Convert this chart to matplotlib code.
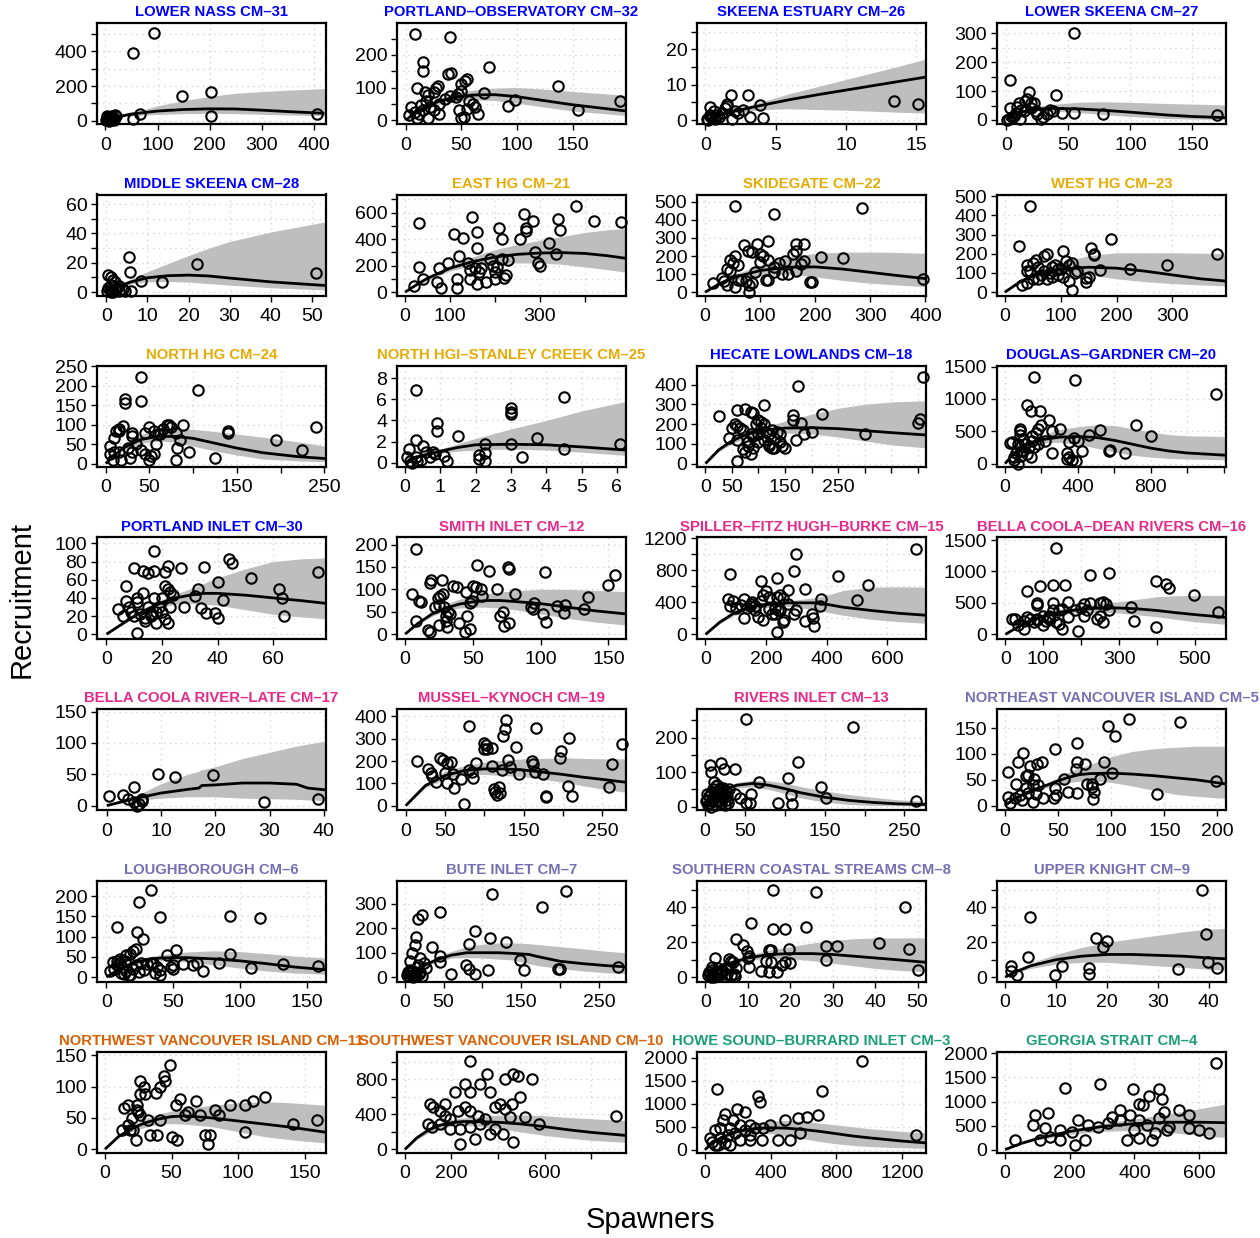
import matplotlib
matplotlib.use("Agg")
import matplotlib.pyplot as plt

plt.rcParams["font.family"] = ["Liberation Sans", "DejaVu Sans"]

# title colours by region group
BLUE, GOLD, PINK = "#0000FF", "#E6AB02", "#E7298A"
PURPLE, ORANGE, GREEN = "#7570B3", "#D95F02", "#1B9E77"

titles = [
    "LOWER NASS CM–31", "PORTLAND–OBSERVATORY CM–32", "SKEENA ESTUARY CM–26", "LOWER SKEENA CM–27",
    "MIDDLE SKEENA CM–28", "EAST HG CM–21", "SKIDEGATE CM–22", "WEST HG CM–23",
    "NORTH HG CM–24", "NORTH HGI–STANLEY CREEK CM–25", "HECATE LOWLANDS CM–18", "DOUGLAS–GARDNER CM–20",
    "PORTLAND INLET CM–30", "SMITH INLET CM–12", "SPILLER–FITZ HUGH–BURKE CM–15", "BELLA COOLA–DEAN RIVERS CM–16",
    "BELLA COOLA RIVER–LATE CM–17", "MUSSEL–KYNOCH CM–19", "RIVERS INLET CM–13", "NORTHEAST VANCOUVER ISLAND CM–5",
    "LOUGHBOROUGH CM–6", "BUTE INLET CM–7", "SOUTHERN COASTAL STREAMS CM–8", "UPPER KNIGHT CM–9",
    "NORTHWEST VANCOUVER ISLAND CM–11", "SOUTHWEST VANCOUVER ISLAND CM–10", "HOWE SOUND–BURRARD INLET CM–3", "GEORGIA STRAIT CM–4",
]
title_colors = [BLUE] * 5 + [GOLD] * 5 + [BLUE] * 3 + [PINK] * 6 + [PURPLE] * 5 + [ORANGE] * 2 + [GREEN] * 2

# observed (spawners, recruits) and fitted table (spawners, fit, lower, upper)
nass_obs = [(94, 505), (53, 390), (146, 143), (202, 163), (202, 28), (406, 37), (66, 38), (53, 8),
            (2, 2), (4, 12), (6, 18), (8, 5), (10, 22), (12, 28), (15, 14), (18, 30), (20, 25),
            (3, 25), (7, 0), (11, 8), (14, 20), (16, 3), (9, 15), (5, 6)]
nass_fit = [(0, 0, 0, 0), (25, 22, 18, 27), (50, 38, 28, 45), (100, 55, 35, 85), (150, 64, 40, 115),
            (200, 68, 42, 140), (250, 67, 40, 158), (300, 60, 36, 168), (350, 52, 32, 176), (420, 42, 28, 185)]

portobs_obs = [(8, 265), (40, 255), (15, 178), (15, 150), (75, 162), (38, 140), (41, 145), (137, 105),
               (55, 125), (53, 120), (50, 110), (10, 97), (20, 78), (25, 85), (27, 97), (29, 105), (50, 90),
               (47, 80), (70, 82), (98, 62), (92, 42), (155, 30), (193, 58), (40, 75), (35, 65), (30, 50),
               (22, 40), (18, 60), (15, 30), (12, 20), (5, 40), (3, 15), (10, 5), (20, 5), (30, 20), (50, 5),
               (52, 10), (55, 35), (60, 50), (62, 40), (65, 20), (57, 60), (45, 70), (25, 30), (8, 25),
               (14, 45), (17, 85), (48, 30)]
portobs_fit = [(0, 0, 0, 0), (10, 28, 24, 32), (20, 45, 38, 52), (30, 58, 49, 67), (40, 67, 56, 78),
               (50, 73, 60, 86), (60, 77, 62, 92), (80, 78, 60, 98), (100, 72, 52, 100), (120, 62, 42, 96),
               (150, 47, 28, 88), (198, 28, 14, 76)]

skest_obs = [(0.1, 0.2), (0.3, 3.8), (0.3, 1.5), (0.5, 0.5), (0.7, 0.3), (1.0, 1.0), (1.2, 2.0), (1.5, 4.0),
             (1.5, 4.5), (1.8, 7.0), (1.9, 0.2), (2.1, 2.5), (2.3, 2.0), (2.7, 2.8), (3.0, 7.2), (3.2, 0.9),
             (3.9, 4.2), (4.1, 0.5), (13.4, 5.3), (15.1, 4.6), (0.2, 0.0), (0.4, 0.8), (0.8, 1.5),
             (1.4, 3.5), (0.6, 2.5)]
skest_fit = [(0, 0, 0, 0), (1, 1.4, 1.2, 1.6), (2, 2.5, 2.0, 3.0), (4, 4.2, 3.0, 5.2), (6, 5.8, 3.2, 7.5),
             (8, 7.2, 3.0, 9.5), (10, 8.5, 2.8, 11.5), (12, 9.8, 2.5, 13.5), (14, 11.1, 2.2, 15.5),
             (15.7, 12.2, 2.0, 17.3)]

lskeena_obs = [(55, 300), (3, 140), (40, 88), (18, 98), (3, 40), (10, 60), (15, 65), (17, 72), (20, 60),
               (22, 58), (12, 35), (8, 25), (5, 10), (2, 5), (1, 0), (25, 20), (30, 10), (35, 35), (38, 30),
               (33, 20), (45, 25), (55, 25), (78, 20), (170, 18), (6, 15), (9, 45), (14, 30), (20, 40),
               (11, 5), (28, 5), (24, 30)]
lskeena_fit = [(0, 0, 0, 0), (5, 15, 13, 17), (10, 25, 21, 29), (20, 35, 29, 42), (30, 39, 31, 50),
               (40, 40, 30, 55), (60, 38, 25, 62), (80, 33, 18, 63), (100, 27, 12, 61), (130, 17, 5, 57),
               (150, 12, 3, 55), (177, 8, 2, 52)]

mskeena_obs = [(0.5, 12), (1, 10), (1.5, 8), (2, 7), (1, 5), (0.5, 3), (2, 2), (3, 1), (0.2, 0.5), (1.2, 0),
               (5.5, 24), (5.8, 14), (8.3, 7.5), (13.5, 7), (22, 19), (51, 13), (6, 1), (4, 2), (3, 4),
               (2.5, 3), (0.8, 1.5), (1.5, 0.3), (4.5, 0.5)]
mskeena_fit = [(0, 0, 0, 0), (1, 1.6, 1.4, 1.8), (3, 4, 3.3, 4.8), (6, 7, 5.5, 9), (10, 9.8, 7, 14),
               (15, 11.2, 7.3, 19.5), (20, 11.6, 6.8, 25), (25, 11, 5.8, 30), (30, 9.6, 4.8, 34.5),
               (40, 7, 3, 41), (53.5, 4.5, 1.5, 48)]

easthg_obs = [(20, 50), (30, 190), (30, 520), (40, 100), (70, 80), (75, 180), (80, 30), (95, 220), (110, 440),
              (115, 30), (115, 100), (120, 270), (130, 410), (140, 220), (145, 170), (150, 570), (155, 180),
              (160, 450), (160, 330), (160, 60), (165, 150), (170, 180), (180, 80), (190, 250), (195, 200),
              (200, 150), (210, 480), (215, 250), (215, 400), (225, 130), (220, 110), (230, 240), (255, 400),
              (265, 590), (270, 460), (270, 480), (285, 540), (290, 300), (295, 220), (300, 200), (320, 370),
              (335, 290), (340, 550), (345, 470), (380, 650), (420, 540), (480, 530), (145, 100), (200, 100),
              (205, 190)]
easthg_fit = [(0, 0, 0, 0), (25, 55, 48, 62), (50, 105, 92, 120), (100, 180, 160, 200), (150, 230, 200, 265),
              (200, 265, 215, 320), (250, 285, 220, 360), (300, 295, 220, 390), (350, 298, 210, 420),
              (400, 292, 190, 450), (450, 275, 170, 470), (492, 255, 150, 480)]

skide_obs = [(55, 475), (125, 435), (285, 465), (70, 260), (95, 265), (115, 285), (165, 265), (180, 265),
             (78, 230), (100, 210), (55, 200), (45, 180), (50, 160), (60, 150), (40, 130), (45, 120), (30, 80),
             (15, 50), (35, 60), (40, 40), (55, 30), (60, 70), (75, 60), (80, 40), (80, 0), (85, 50), (90, 110),
             (100, 165), (105, 200), (110, 70), (115, 65), (115, 180), (125, 110), (135, 160), (140, 100),
             (145, 170), (150, 100), (160, 210), (165, 230), (165, 115), (175, 155), (180, 170), (190, 55),
             (195, 55), (210, 195), (250, 190), (395, 75), (85, 220), (65, 70), (125, 140)]
skide_fit = [(0, 0, 0, 0), (25, 45, 38, 52), (50, 80, 65, 95), (100, 120, 90, 150), (150, 138, 100, 195),
             (200, 140, 85, 215), (250, 128, 65, 222), (300, 110, 50, 222), (350, 92, 40, 220),
             (401, 75, 30, 215)]

westhg_obs = [(45, 450), (25, 240), (190, 275), (155, 230), (160, 200), (160, 195), (105, 215), (380, 200),
              (290, 140), (225, 120), (170, 115), (75, 200), (70, 190), (40, 140), (45, 110), (40, 110),
              (50, 150), (55, 170), (60, 130), (70, 110), (80, 100), (85, 130), (90, 140), (95, 90), (100, 120),
              (105, 80), (110, 160), (115, 140), (120, 150), (115, 60), (120, 10), (125, 100), (130, 110),
              (145, 75), (145, 55), (150, 80), (60, 70), (30, 40), (40, 50), (50, 70), (65, 90), (85, 80),
              (95, 120), (75, 70)]
westhg_fit = [(0, 0, 0, 0), (25, 50, 42, 58), (50, 85, 70, 100), (100, 120, 95, 155), (150, 130, 90, 190),
              (200, 125, 70, 205), (250, 110, 55, 205), (300, 90, 45, 205), (350, 70, 38, 203),
              (396, 58, 33, 200)]

northhg_obs = [(40, 222), (105, 190), (22, 165), (22, 155), (40, 160), (240, 93), (140, 85), (140, 78),
               (195, 60), (225, 35), (125, 15), (95, 30), (80, 10), (82, 40), (85, 60), (88, 100), (70, 100),
               (75, 95), (65, 90), (60, 75), (55, 85), (50, 95), (45, 80), (40, 35), (35, 50), (30, 80),
               (25, 40), (20, 98), (15, 85), (12, 85), (10, 65), (5, 45), (5, 25), (8, 10), (10, 30), (15, 30),
               (18, 10), (28, 15), (30, 30), (45, 25), (50, 10), (52, 20), (55, 25), (58, 50), (62, 75),
               (72, 100), (80, 80), (30, 70), (15, 90)]
northhg_fit = [(0, 0, 0, 0), (10, 22, 19, 25), (20, 40, 35, 45), (40, 62, 52, 75), (60, 70, 58, 88),
               (80, 70, 55, 90), (100, 65, 45, 88), (120, 55, 35, 84), (150, 40, 22, 76), (180, 28, 12, 68),
               (220, 18, 7, 56), (252, 13, 5, 45)]

stanley_obs = [(0.3, 6.9), (0.3, 2.2), (0.1, 1.3), (0.05, 0.5), (0.2, 0.0), (0.3, 0.5), (0.35, 0.2),
               (0.5, 1.6), (0.6, 1.0), (0.7, 0.5), (0.8, 1.0), (0.85, 0.8), (0.9, 3.8), (0.9, 3.0), (1.1, 0.6),
               (1.2, 0.2), (1.5, 2.5), (2.1, 0.7), (2.1, 0.4), (2.25, 1.8), (2.25, 0.9), (2.25, 0.2),
               (3.0, 5.2), (3.0, 4.8), (3.0, 4.6), (3.0, 1.8), (3.3, 0.5), (3.75, 2.3), (4.5, 6.2), (4.5, 1.3),
               (6.1, 1.8), (0.15, 0.2), (0.45, 0.3)]
stanley_fit = [(0, 0, 0, 0), (0.25, 0.4, 0.35, 0.45), (0.5, 0.7, 0.5, 0.8), (1, 1.1, 0.9, 1.3),
               (1.5, 1.45, 1.1, 1.8), (2, 1.7, 1.2, 2.3), (3, 1.75, 1.3, 3.2), (4, 1.7, 1.2, 4.0),
               (5, 1.5, 1.0, 4.9), (6.26, 1.2, 0.7, 5.8)]

hecate_obs = [(410, 440), (175, 395), (110, 295), (25, 240), (60, 270), (75, 275), (85, 260), (90, 255),
              (95, 200), (100, 220), (105, 210), (110, 200), (115, 160), (120, 150), (125, 170), (130, 130),
              (135, 160), (140, 110), (145, 90), (150, 80), (125, 80), (120, 100), (110, 120), (100, 110),
              (90, 140), (85, 150), (80, 110), (80, 90), (75, 60), (70, 75), (60, 15), (85, 50), (90, 80),
              (65, 180), (60, 190), (55, 200), (50, 180), (45, 130), (60, 120), (70, 170), (100, 150),
              (105, 180), (165, 220), (165, 245), (170, 120), (180, 205), (185, 150), (200, 160), (220, 250),
              (300, 150), (400, 205), (405, 225), (130, 80), (120, 90), (140, 150)]
hecate_fit = [(0, 0, 0, 0), (25, 70, 60, 80), (50, 115, 100, 130), (75, 145, 128, 160), (100, 165, 145, 175),
              (150, 180, 155, 215), (200, 182, 150, 250), (250, 177, 135, 280), (300, 167, 115, 300),
              (350, 157, 95, 312), (416, 145, 80, 318)]

douglas_obs = [(160, 1340), (385, 1290), (1160, 1080), (120, 900), (140, 820), (190, 820), (240, 680),
               (200, 600), (180, 530), (170, 480), (150, 430), (300, 530), (260, 510), (350, 340), (380, 400),
               (400, 350), (420, 200), (460, 440), (520, 520), (570, 200), (575, 210), (660, 160), (720, 590),
               (800, 420), (350, 100), (370, 60), (390, 40), (340, 170), (340, 70), (260, 170), (180, 300),
               (160, 250), (150, 350), (140, 100), (120, 150), (110, 300), (100, 380), (90, 200), (80, 500),
               (80, 540), (80, 440), (70, 300), (60, 170), (50, 100), (40, 330), (30, 320), (50, 50), (70, 0),
               (90, 120), (130, 250), (100, 200), (220, 350)]
douglas_fit = [(0, 0, 0, 0), (50, 160, 140, 180), (100, 270, 240, 300), (200, 370, 320, 440),
               (300, 410, 330, 530), (400, 420, 300, 570), (500, 405, 240, 600), (600, 360, 180, 590),
               (700, 300, 130, 540), (800, 240, 100, 490), (900, 195, 80, 450), (1000, 165, 70, 430),
               (1213, 130, 60, 420)]

portinlet_obs = [(17, 92), (10, 73), (13, 70), (15, 67), (17, 70), (21, 68), (22, 75), (27, 73), (35, 74),
                 (44, 83), (45, 78), (52, 62), (62, 50), (63, 40), (64, 20), (76, 68), (40, 57), (42, 38),
                 (34, 29), (36, 23), (39, 23), (40, 18), (33, 50), (32, 42), (28, 30), (23, 47), (22, 50),
                 (21, 53), (20, 40), (19, 30), (18, 25), (17, 40), (16, 22), (15, 30), (14, 15), (13, 45),
                 (12, 22), (11, 40), (11, 36), (10, 20), (9, 25), (8, 30), (7, 37), (7, 53), (6, 20), (4, 28),
                 (11, 1), (22, 12), (18, 12), (21, 17), (23, 30), (20, 25), (24, 43), (14, 18), (16, 20)]
portinlet_fit = [(0, 0, 0, 0), (5, 10, 9, 11), (10, 20, 18, 22), (15, 28, 25, 31), (20, 35, 30, 38),
                 (25, 40, 33, 44), (30, 43, 34, 50), (35, 45, 33, 56), (40, 45, 32, 62), (50, 43, 27, 72),
                 (60, 40, 22, 80), (70, 37, 19, 83), (79, 34, 17, 84)]

smith_obs = [(8, 190), (5, 90), (10, 75), (12, 72), (8, 30), (17, 10), (18, 5), (18, 115), (19, 120),
             (27, 122), (24, 80), (25, 65), (26, 85), (28, 90), (29, 60), (30, 30), (31, 15), (32, 50), (33, 45),
             (35, 107), (38, 105), (40, 25), (44, 5), (45, 95), (46, 40), (48, 12), (48, 70), (49, 75),
             (50, 108), (52, 105), (53, 155), (56, 100), (57, 85), (62, 142), (68, 100), (70, 40), (72, 50),
             (73, 18), (76, 150), (77, 145), (77, 25), (81, 90), (93, 60), (94, 57), (95, 70), (102, 45),
             (103, 138), (104, 27), (112, 62), (117, 48), (118, 65), (132, 55), (135, 82), (150, 110),
             (155, 133), (25, 20), (30, 40), (22, 60)]
smith_fit = [(0, 0, 0, 0), (10, 25, 22, 28), (20, 45, 40, 52), (30, 58, 52, 67), (40, 67, 58, 78),
             (50, 72, 60, 85), (60, 75, 60, 90), (70, 75, 58, 94), (80, 73, 55, 97), (100, 68, 45, 100),
             (120, 60, 35, 100), (140, 52, 27, 98), (163, 45, 20, 95)]

spiller_obs = [(696, 1070), (300, 1000), (291, 790), (82, 750), (237, 700), (182, 670), (437, 730), (537, 620),
               (500, 430), (382, 440), (378, 350), (328, 570), (273, 560), (246, 490), (255, 450), (237, 470),
               (209, 470), (200, 540), (191, 490), (182, 420), (164, 360), (150, 380), (137, 330), (127, 440),
               (118, 370), (100, 330), (91, 420), (73, 440), (82, 350), (127, 210), (173, 220), (191, 180),
               (218, 250), (228, 330), (246, 300), (255, 160), (259, 180), (273, 380), (291, 250), (300, 300),
               (237, 30), (328, 170), (350, 250), (355, 210), (359, 110), (228, 250), (209, 320), (164, 300),
               (146, 360), (155, 400), (241, 310)]
spiller_fit = [(0, 0, 0, 0), (46, 150, 130, 170), (91, 260, 230, 290), (137, 330, 295, 350),
               (182, 370, 330, 390), (273, 395, 350, 420), (364, 395, 310, 460), (410, 370, 270, 500),
               (455, 340, 240, 550), (546, 300, 190, 590), (637, 265, 160, 595), (728, 240, 140, 590)]

dean_obs = [(133, 1370), (274, 980), (224, 940), (91, 770), (58, 690), (158, 790), (125, 790), (398, 850),
            (423, 800), (432, 730), (498, 630), (560, 360), (398, 120), (191, 60), (83, 500), (83, 470),
            (125, 500), (166, 510), (224, 500), (249, 500), (257, 520), (266, 480), (274, 380), (249, 300),
            (257, 200), (241, 250), (208, 300), (208, 480), (332, 440), (340, 220), (216, 380), (125, 380),
            (116, 280), (108, 220), (149, 90), (141, 160), (133, 200), (116, 300), (100, 150), (83, 250),
            (75, 200), (66, 250), (58, 280), (50, 220), (50, 80), (33, 150), (25, 250), (17, 240), (116, 240),
            (141, 380), (166, 280), (183, 380), (199, 420), (149, 400), (100, 300), (83, 230)]
dean_fit = [(0, 0, 0, 0), (50, 180, 160, 200), (100, 290, 260, 320), (150, 360, 320, 400),
            (200, 400, 350, 450), (250, 420, 350, 490), (300, 420, 340, 520), (350, 405, 310, 560),
            (400, 380, 280, 600), (450, 345, 240, 615), (500, 315, 200, 620), (582, 270, 160, 620)]

bclate_obs = [(0.5, 15), (3, 17), (4, 10), (5, 30), (5, 5), (5.5, 0), (6, 3), (6.5, 7), (6.5, 10), (9.5, 50),
              (12.5, 46), (19.5, 48), (29, 5), (39, 11)]
bclate_fit = [(0, 0, 0, 0), (5, 11, 8, 14), (10, 20, 12, 35), (15, 26, 14, 50), (17, 28, 14, 55),
              (17.5, 32, 14, 57), (20, 33, 14, 62), (25, 36, 12, 75), (30, 36, 11, 85), (35, 34, 10, 95),
              (37, 28, 9, 98), (40.4, 25, 8, 103)]

mussel_obs = [(15, 200), (29, 165), (32, 145), (34, 135), (38, 105), (44, 215), (47, 205), (52, 190),
              (50, 145), (52, 100), (58, 195), (60, 140), (62, 80), (70, 120), (74, 10), (80, 355), (80, 160),
              (84, 150), (86, 125), (90, 190), (100, 280), (102, 270), (104, 255), (110, 180), (110, 260),
              (112, 75), (114, 60), (116, 50), (118, 85), (120, 55), (122, 160), (124, 310), (126, 345),
              (128, 385), (130, 205), (132, 175), (140, 265), (144, 140), (160, 200), (162, 185), (164, 150),
              (165, 350), (174, 140), (178, 45), (178, 40), (196, 215), (198, 245), (206, 90), (208, 305),
              (212, 45), (258, 85), (262, 185), (275, 275), (100, 255)]
mussel_fit = [(0, 0, 0, 0), (25, 90, 80, 100), (50, 135, 120, 155), (75, 158, 140, 180), (100, 165, 140, 195),
              (125, 165, 135, 205), (150, 160, 130, 210), (175, 150, 118, 212), (200, 140, 105, 215),
              (225, 128, 90, 212), (250, 118, 75, 210), (280, 105, 60, 210)]

rivers_obs = [(51, 253), (186, 232), (117, 128), (104, 82), (146, 57), (152, 26), (108, 34), (109, 8), (92, 11),
              (68, 72), (58, 37), (57, 9), (52, 10), (44, 24), (38, 36), (38, 109), (24, 109), (20, 127),
              (6, 121), (7, 100), (11, 72), (15, 63), (265, 15), (3, 20), (5, 30), (6, 10), (8, 40), (9, 15),
              (10, 50), (12, 25), (13, 35), (14, 5), (15, 45), (16, 20), (18, 30), (19, 55), (20, 10),
              (21, 40), (22, 25), (24, 35), (25, 5), (26, 45), (28, 20), (30, 50), (4, 5), (7, 0), (11, 30),
              (17, 15), (23, 55), (27, 30), (29, 10), (10, 20), (14, 60), (1, 15), (2, 35)]
rivers_fit = [(0, 0, 0, 0), (20, 45, 40, 50), (40, 62, 54, 70), (60, 67, 57, 76), (80, 62, 50, 75),
              (100, 52, 38, 68), (120, 40, 25, 58), (150, 27, 13, 45), (180, 18, 6, 35), (210, 12, 3, 27),
              (240, 8, 2, 20), (277, 6, 1, 15)]

nevi_obs = [(117, 167), (165, 162), (97, 155), (104, 135), (68, 121), (47, 109), (93, 85), (75, 80), (68, 84),
            (67, 71), (101, 64), (89, 51), (77, 41), (82, 41), (82, 37), (84, 26), (83, 13), (68, 24), (59, 27),
            (56, 51), (47, 35), (46, 14), (48, 21), (143, 22), (199, 47), (3, 65), (17, 101), (12, 84),
            (24, 76), (30, 81), (35, 85), (22, 59), (20, 58), (27, 51), (31, 39), (36, 14), (29, 22), (22, 24),
            (14, 21), (10, 41), (9, 14), (5, 6), (3, 17), (16, 11), (26, 8), (20, 34), (26, 40)]
nevi_fit = [(0, 0, 0, 0), (10, 15, 13, 17), (20, 25, 22, 28), (30, 33, 28, 37), (40, 40, 35, 45),
            (50, 48, 40, 55), (60, 55, 45, 65), (70, 60, 47, 73), (80, 62, 48, 80), (100, 63, 45, 95),
            (120, 61, 38, 105), (140, 58, 30, 110), (160, 54, 22, 113), (180, 50, 18, 115), (208, 42, 14, 115)]

lough_obs = [(33, 215), (24, 185), (40, 148), (92, 152), (115, 147), (8, 123), (23, 112), (27, 95), (22, 70),
             (20, 65), (18, 58), (15, 55), (14, 40), (10, 45), (8, 40), (5, 38), (3, 15), (6, 20), (8, 30),
             (10, 35), (12, 25), (13, 8), (15, 15), (17, 5), (20, 20), (22, 30), (24, 12), (26, 35), (28, 18),
             (30, 32), (33, 36), (35, 35), (38, 25), (40, 18), (40, 5), (45, 55), (48, 25), (50, 20), (50, 30),
             (52, 67), (57, 32), (65, 30), (68, 35), (72, 15), (84, 36), (92, 58), (108, 22), (132, 33),
             (158, 27), (36, 10), (11, 10), (18, 5)]
lough_fit = [(0, 0, 0, 0), (10, 20, 17, 23), (20, 35, 30, 40), (30, 43, 36, 49), (40, 47, 40, 55),
             (50, 48, 40, 59), (60, 48, 37, 62), (80, 45, 30, 65), (100, 40, 22, 63), (120, 33, 15, 58),
             (140, 25, 10, 52), (164, 18, 7, 47)]

bute_obs = [(113, 341), (208, 353), (177, 286), (45, 265), (22, 254), (17, 240), (90, 191), (15, 166),
            (110, 162), (131, 143), (83, 136), (35, 123), (46, 85), (45, 60), (149, 71), (154, 30), (79, 50),
            (83, 33), (91, 14), (107, 30), (60, 14), (197, 34), (200, 34), (275, 41), (9, 98), (13, 132),
            (20, 78), (25, 57), (27, 37), (17, 50), (7, 64), (3, 10), (5, 5), (6, 15), (8, 20), (10, 0),
            (10, 25), (12, 8), (14, 18), (15, 5), (18, 12), (20, 22), (22, 5), (7, 30), (4, 20)]
bute_fit = [(0, 0, 0, 0), (20, 40, 35, 45), (40, 70, 60, 80), (60, 90, 78, 105), (80, 100, 80, 125),
            (100, 100, 78, 135), (120, 100, 74, 140), (140, 97, 70, 140), (160, 93, 55, 137),
            (170, 85, 48, 134), (200, 65, 35, 125), (230, 55, 25, 116), (260, 47, 18, 106), (285, 42, 15, 100)]

southcs_obs = [(16, 50), (26, 49), (47, 40), (10.7, 31), (16, 27.5), (18.7, 27.5), (23.6, 29), (7.2, 22),
               (8.8, 18.5), (9.8, 15), (10.2, 12), (10, 10.7), (10.3, 6), (15, 15.7), (15.4, 15.5),
               (19.6, 16.4), (28.5, 18), (31, 18), (41, 19.5), (48, 16), (50, 4), (28.4, 9.6), (13, 3.8),
               (15, 3.2), (16.8, 2.9), (14.3, 9.2), (15.4, 8.8), (18, 7), (18.7, 8.4), (20, 8), (7.2, 5.2),
               (6.8, 1.9), (5.5, 10.5), (2.3, 11), (1.6, 6), (6, 9.4), (6.5, 8.4), (0.5, 1), (1, 2), (1.5, 4),
               (2, 0), (2.5, 3), (3, 1), (3, 5), (3.5, 2), (4, 4), (4.5, 0.5), (5, 2), (5, 6), (0.8, 3),
               (2, 1.5), (4, 3), (1.2, 0), (6, 1), (7, 0.5)]
southcs_fit = [(0, 0, 0, 0), (2, 4, 3.5, 4.5), (5, 7.5, 6.5, 8.5), (10, 11, 9.5, 12.5), (15, 13, 11, 15.5),
               (20, 13.5, 10.5, 17.5), (25, 13.5, 9.5, 19.5), (30, 13, 8, 21), (35, 12, 6.5, 22),
               (40, 11, 5, 22.5), (45, 10, 4, 22.5), (52, 8.5, 3, 22.5)]

uknight_obs = [(38.6, 50), (4.8, 34.4), (4.5, 11.5), (1.2, 6.5), (1.2, 3.3), (2.4, 1), (9.8, 1.3),
               (11.2, 6.5), (16.4, 5), (16.4, 2), (17.8, 22.4), (19.2, 17.2), (20, 20.8), (33.9, 4.6),
               (39.5, 24.9), (39.8, 8.4), (41.7, 5.5)]
uknight_fit = [(0, 0, 0, 0), (2, 3, 2.5, 3.5), (5, 6.5, 5, 8), (10, 10, 7.5, 13), (15, 12, 8.5, 17),
               (20, 13, 8.5, 20), (25, 13, 7.5, 22), (30, 12.5, 6.5, 24), (35, 12, 5.5, 26), (40, 11, 4.5, 27.5),
               (43.4, 10.5, 4, 28)]

nwvi_obs = [(49, 134), (44, 116), (45, 108), (26, 108), (29, 100), (26, 88), (30, 88), (41, 100), (38, 90),
            (14, 66), (17, 70), (24, 71), (24, 62), (53, 70), (56, 80), (68, 77), (83, 62), (94, 70), (105, 70),
            (111, 77), (120, 83), (17, 39), (13, 31), (19, 31), (23, 15), (21, 31), (34, 23), (39, 23),
            (50, 20), (54, 15), (62, 59), (71, 54), (75, 23), (79, 23), (77, 8), (86, 54), (105, 28),
            (141, 40), (159, 46), (32, 46), (41, 46), (60, 54), (26, 54), (20, 49), (25, 59)]
nwvi_fit = [(0, 0, 0, 0), (10, 20, 18, 22), (20, 33, 28, 38), (30, 42, 35, 48), (40, 48, 40, 56),
            (50, 52, 41, 61), (60, 53, 40, 65), (80, 50, 36, 70), (100, 45, 28, 74), (120, 40, 20, 76),
            (140, 35, 15, 74), (166, 27, 10, 70)]

swvi_obs = [(278, 1006), (351, 857), (257, 743), (428, 800), (463, 857), (484, 834), (493, 594), (544, 800),
            (321, 743), (214, 651), (278, 651), (364, 651), (107, 514), (120, 480), (150, 434), (171, 377),
            (193, 343), (227, 434), (257, 480), (278, 434), (313, 377), (385, 480), (407, 514), (428, 457),
            (458, 514), (343, 343), (321, 286), (278, 251), (236, 229), (193, 229), (150, 286), (116, 251),
            (99, 286), (385, 229), (420, 171), (463, 80), (514, 366), (578, 286), (908, 377), (236, 57),
            (300, 114), (364, 171), (450, 366), (171, 514)]
swvi_fit = [(0, 0, 0, 0), (50, 130, 110, 150), (100, 220, 190, 250), (150, 275, 235, 305),
            (200, 305, 265, 340), (250, 318, 272, 360), (300, 318, 270, 370), (400, 310, 240, 390),
            (500, 290, 200, 395), (600, 260, 160, 385), (700, 225, 130, 365), (800, 195, 105, 350),
            (950, 160, 80, 330)]

howe_obs = [(958, 1934), (715, 1275), (73, 1319), (321, 1165), (333, 1033), (194, 879), (242, 813), (121, 769),
            (109, 659), (170, 659), (212, 549), (273, 549), (303, 484), (352, 484), (394, 549), (485, 659),
            (564, 703), (624, 725), (685, 747), (576, 374), (515, 220), (442, 220), (345, 220), (273, 220),
            (212, 220), (91, 264), (30, 264), (42, 176), (61, 110), (79, 110), (121, 154), (152, 110),
            (139, 330), (182, 374), (242, 440), (61, 440), (91, 484), (1285, 330), (152, 484), (273, 330)]
howe_fit = [(0, 0, 0, 0), (50, 160, 140, 180), (100, 270, 240, 300), (200, 400, 340, 460), (300, 460, 370, 560),
            (400, 480, 350, 620), (500, 470, 300, 640), (600, 440, 240, 620), (700, 400, 180, 580),
            (800, 350, 130, 540), (900, 300, 95, 500), (1000, 260, 70, 460), (1100, 225, 55, 430),
            (1200, 190, 45, 400), (1345, 150, 30, 370)]

georgia_obs = [(652, 1796), (292, 1367), (185, 1286), (394, 1265), (446, 1122), (477, 1265), (415, 959),
               (425, 918), (486, 1061), (538, 816), (354, 816), (329, 673), (354, 612), (385, 714), (92, 714),
               (132, 755), (86, 510), (123, 449), (169, 408), (225, 612), (255, 510), (286, 469), (317, 551),
               (415, 612), (440, 510), (477, 653), (508, 469), (569, 449), (600, 408), (631, 347), (108, 204),
               (138, 265), (169, 204), (206, 367), (246, 204), (215, 102), (415, 245), (462, 347), (502, 408),
               (378, 204), (492, 775), (569, 714), (31, 204), (400, 408), (455, 204)]
georgia_fit = [(0, 0, 0, 0), (50, 130, 110, 150), (100, 230, 200, 260), (200, 380, 320, 420),
               (300, 480, 380, 540), (400, 540, 400, 640), (500, 570, 360, 740), (600, 570, 300, 850),
               (683, 560, 250, 950)]

panels_obs = [nass_obs, portobs_obs, skest_obs, lskeena_obs, mskeena_obs, easthg_obs, skide_obs, westhg_obs,
              northhg_obs, stanley_obs, hecate_obs, douglas_obs, portinlet_obs, smith_obs, spiller_obs, dean_obs,
              bclate_obs, mussel_obs, rivers_obs, nevi_obs, lough_obs, bute_obs, southcs_obs, uknight_obs,
              nwvi_obs, swvi_obs, howe_obs, georgia_obs]
panels_fit = [nass_fit, portobs_fit, skest_fit, lskeena_fit, mskeena_fit, easthg_fit, skide_fit, westhg_fit,
              northhg_fit, stanley_fit, hecate_fit, douglas_fit, portinlet_fit, smith_fit, spiller_fit, dean_fit,
              bclate_fit, mussel_fit, rivers_fit, nevi_fit, lough_fit, bute_fit, southcs_fit, uknight_fit,
              nwvi_fit, swvi_fit, howe_fit, georgia_fit]

# axis ranges, ticks, and which ticks carry labels
axes_cfg = [
    ((-16, 423), (-20, 565), range(0, 401, 100), (0, 100, 200, 300, 400), range(0, 501, 100), (0, 200, 400)),
    ((-8, 198), (-12, 298), range(0, 151, 50), (0, 50, 100, 150), range(0, 251, 50), (0, 100, 200)),
    ((-0.6, 15.7), (-1.1, 27.5), range(0, 16, 5), (0, 5, 10, 15), range(0, 26, 5), (0, 10, 20)),
    ((-7.4, 177), (-14, 336), range(0, 151, 50), (0, 50, 100, 150), range(0, 301, 50), (0, 100, 200, 300)),
    ((-2.3, 53.5), (-2.3, 66.6), range(0, 51, 10), (0, 10, 20, 30, 40, 50), range(0, 61, 10), (0, 20, 40, 60)),
    ((-18, 492), (-25, 736), range(0, 401, 100), (0, 100, 300), range(0, 701, 100), (0, 200, 400, 600)),
    ((-14.5, 401), (-18, 540), range(0, 401, 100), (0, 100, 200, 300, 400), range(0, 501, 100), (0, 100, 200, 300, 400, 500)),
    ((-14, 396), (-17, 508), range(0, 301, 100), (0, 100, 200, 300), range(0, 501, 100), (0, 100, 200, 300, 400, 500)),
    ((-10, 252), (-8.6, 251), range(0, 251, 50), (0, 50, 150, 250), range(0, 251, 50), (0, 50, 100, 150, 200, 250)),
    ((-0.23, 6.26), (-0.4, 9.15), range(0, 7), (0, 1, 2, 3, 4, 5, 6), range(0, 9, 2), (0, 2, 4, 6, 8)),
    ((-16, 416), (-17, 494), range(0, 401, 50), (0, 50, 150, 250), range(0, 401, 100), (0, 100, 200, 300, 400)),
    ((-44, 1213), (-52, 1510), range(0, 1201, 200), (0, 400, 800), range(0, 1501, 500), (0, 500, 1000, 1500)),
    ((-3.4, 79), (-4.7, 106.5), range(0, 61, 20), (0, 20, 40, 60), range(0, 101, 20), (0, 20, 40, 60, 80, 100)),
    ((-6, 163), (-10, 216), range(0, 151, 50), (0, 50, 100, 150), range(0, 201, 50), (0, 50, 100, 150, 200)),
    ((-28, 728), (-50, 1210), range(0, 601, 200), (0, 200, 400, 600), range(0, 1201, 200), (0, 400, 800, 1200)),
    ((-22, 582), (-65, 1540), range(0, 501, 100), (0, 100, 300, 500), range(0, 1501, 500), (0, 500, 1000, 1500)),
    ((-1.8, 40.4), (-7, 154), range(0, 41, 10), (0, 10, 20, 30, 40), range(0, 151, 50), (0, 50, 100, 150)),
    ((-11, 280), (-19, 433), range(0, 251, 50), (0, 50, 150, 250), range(0, 401, 100), (0, 100, 200, 300, 400)),
    ((-10, 277), (-10, 283), range(0, 251, 50), (0, 50, 150, 250), range(0, 251, 50), (0, 100, 200)),
    ((-7.5, 208), (-8.4, 187), range(0, 201, 50), (0, 50, 100, 150, 200), range(0, 151, 50), (0, 50, 100, 150)),
    ((-7, 164), (-11, 239), range(0, 151, 50), (0, 50, 100, 150), range(0, 201, 50), (0, 50, 100, 150, 200)),
    ((-10, 285), (-18, 396), range(0, 251, 50), (0, 50, 150, 250), range(0, 301, 100), (0, 100, 200, 300)),
    ((-2, 52), (-2.5, 55.4), range(0, 51, 10), (0, 10, 20, 30, 40, 50), range(0, 51, 10), (0, 20, 40)),
    ((-1.6, 43.4), (-2.5, 55.4), range(0, 41, 10), (0, 10, 20, 30, 40), range(0, 51, 10), (0, 20, 40)),
    ((-6, 166), (-6, 155), range(0, 151, 50), (0, 50, 100, 150), range(0, 151, 50), (0, 50, 100, 150)),
    ((-34, 950), (-40, 1110), range(0, 801, 200), (0, 200, 600), range(0, 1001, 200), (0, 400, 800)),
    ((-48, 1345), (-70, 2130), range(0, 1201, 400), (0, 400, 800, 1200), range(0, 2001, 500), (0, 500, 1000, 1500, 2000)),
    ((-25, 683), (-70, 2030), range(0, 601, 200), (0, 200, 400, 600), range(0, 2001, 500), (0, 500, 1000, 1500, 2000)),
]

W, H = 1260, 1238
fig = plt.figure(figsize=(W / 100, H / 100), dpi=100)

for i in range(28):
    r, c = divmod(i, 4)
    left, top = 97 + 300 * c, 23 + 171.5 * r
    ax = fig.add_axes([left / W, 1 - (top + 101) / H, 229 / W, 101 / H])
    xlim, ylim, xt, xl, yt, yl = axes_cfg[i]
    xt, yt = list(xt), list(yt)

    for t in xt:
        ax.axvline(t, color="#D3D3D3", ls=(0, (1, 3)), lw=1, zorder=0)
    for t in yt:
        ax.axhline(t, color="#D3D3D3", ls=(0, (1, 3)), lw=1, zorder=0)

    fit = panels_fit[i]
    s = [row[0] for row in fit]
    ax.fill_between(s, [row[2] for row in fit], [row[3] for row in fit], color="#BEBEBE", lw=0, zorder=1)
    ax.plot(s, [row[1] for row in fit], color="black", lw=2, zorder=3, solid_capstyle="butt")

    obs = panels_obs[i]
    ax.plot([o[0] for o in obs], [o[1] for o in obs], "o", mfc="none", mec="black",
            ms=7.5, mew=1.5, zorder=4, clip_on=False)

    ax.set_xlim(xlim)
    ax.set_ylim(ylim)
    ax.set_xticks(xt)
    ax.set_xticklabels([f"{t:g}" if t in xl else "" for t in xt])
    ax.set_yticks(yt)
    ax.set_yticklabels([f"{t:g}" if t in yl else "" for t in yt])
    ax.tick_params(direction="out", length=4, width=1, labelsize=14, colors="black")
    ax.tick_params(axis="x", pad=5)
    ax.tick_params(axis="y", pad=3)
    for sp in ax.spines.values():
        sp.set_linewidth(1.6)
    ax.set_title(titles[i], color=title_colors[i], fontsize=10.7, fontweight="bold", pad=4.8)

fig.text(22 / W, 1 - 599 / H, "Recruitment", rotation=90, ha="center", va="center", fontsize=21)
fig.text(650 / W, 1 - 1220 / H, "Spawners", ha="center", va="center", fontsize=21)

fig.savefig("out.png", dpi=100)
